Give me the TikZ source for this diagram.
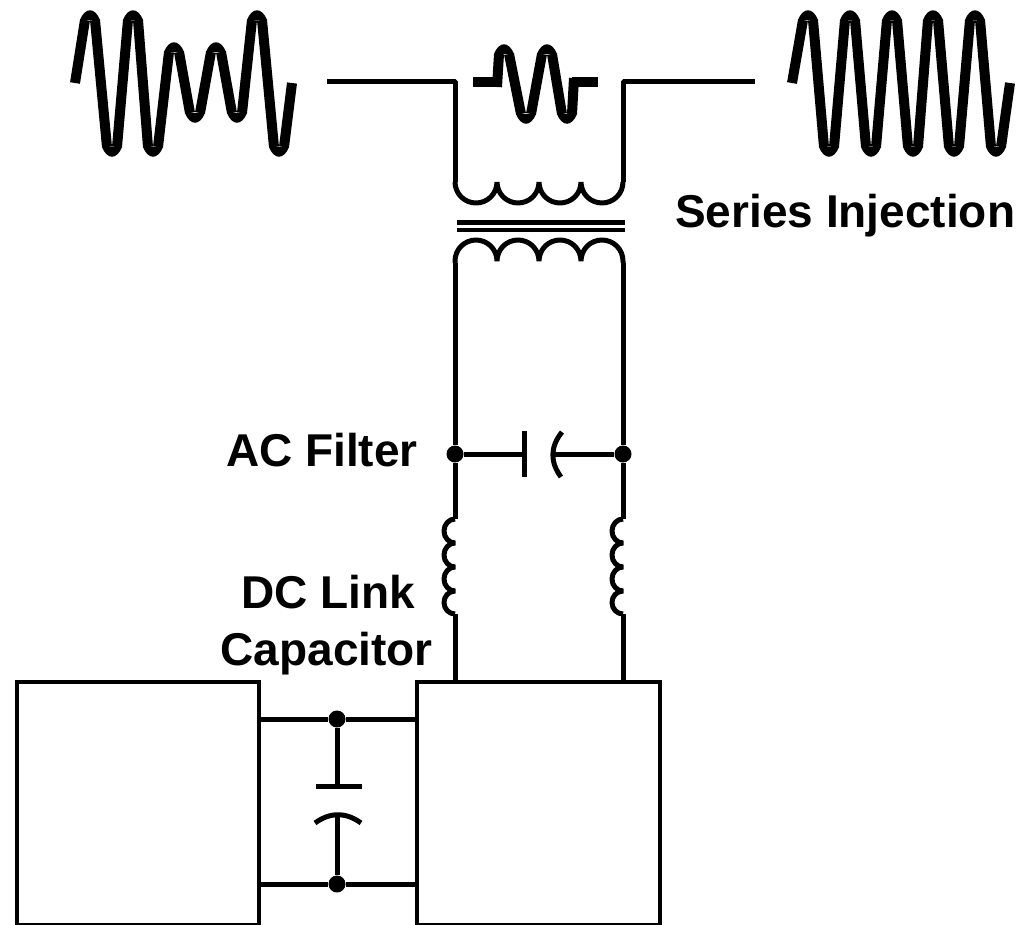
\documentclass[tikz,border=0pt]{standalone}
\usepackage{fontspec}
\setmainfont{Liberation Sans}
\usetikzlibrary{positioning}

\tikzset{
  wire/.style={line width=5pt,line join=bevel},
  plate/.style={line width=5pt},
  wave/.style={line width=10pt},
  dot/.style={circle,fill=black,inner sep=0pt,minimum size=17pt},
  box/.style={draw=black,line width=4pt,inner sep=0pt,outer sep=0pt,anchor=north west},
  lbl/.style={font=\fontsize{46}{50}\selectfont\bfseries,inner sep=0pt},
}
% tips of a waveform, then its strokes
\newcommand{\wavetrace}[2]{
  \foreach \xa/\ya/\xb/\yb in {#2}{
    \draw[wave] (\xa,\ya) -- (\xb,\yb);
  }
  \foreach \xt/\yt/\dir in {#1}{
    \fill (\xt-10,\yt) .. controls (\xt-5,\yt-13*\dir) and (\xt+5,\yt-13*\dir) .. (\xt+10,\yt) -- cycle;
  }
}

\begin{document}
\begin{tikzpicture}[x=1pt,y=-1pt]
\useasboundingbox (0,0) rectangle (1023,924);
\clip (0,0) rectangle (1023,924);

% source and load voltages
\wavetrace{90/20/1,112/147/-1,133/20/1,153/147/-1,174/52/1,195/113/-1,216/52/1,237/113/-1,257/20/1,279/147/-1}
  {75/83/85/20,95/20/107/147,117/147/128/20,138/20/148/147,158/147/169/52,179/52/190/113,200/113/211/52,221/52/232/113,242/113/252/20,262/20/274/147,284/147/292/83}
\wavetrace{808/20/1,829/147/-1,850/20/1,871/147/-1,892/20/1,913/147/-1,933/20/1,954/147/-1,975/20/1,996/147/-1}
  {792/83/803/20,813/20/824/147,834/147/845/20,855/20/866/147,876/147/887/20,897/20/908/147,918/147/928/20,938/20/949/147,959/147/970/20,980/20/991/147,1001/147/1010/83}
% injected voltage
\wavetrace{504/54/1,526/114/-1,547/54/1,567/114/-1}
  {473/82/496/82,497/87/499/54,509/54/521/114,531/114/542/54,552/54/562/114,572/114/574/78,572/82/598/82}

% transformer
\coordinate (PL) at (455,182);
\coordinate (PR) at (623,182);
\coordinate (SL) at (455,263);
\coordinate (SR) at (623,263);
\coordinate (lineL) at (327,81);
\coordinate (lineR) at (755,81);
\draw[wire] (lineL) -| (PL);
\draw[wire] (lineR) -| (PR);
\draw[wire] (PL) arc[start angle=180,end angle=0,radius=21]
  arc[start angle=180,end angle=0,radius=21]
  arc[start angle=180,end angle=0,radius=21]
  arc[start angle=180,end angle=0,radius=21];
\draw[wire] (SL) -- ++(0,-2) arc[start angle=180,end angle=360,radius=21]
  arc[start angle=180,end angle=360,radius=21]
  arc[start angle=180,end angle=360,radius=21]
  arc[start angle=180,end angle=360,radius=21] -- (SR);
\draw[wire] (457,222) -- (625,222);
\draw[line width=4pt] (457,230) -- (625,230);

% converters
\node[box,minimum width=242pt,minimum height=243pt] (convL) at (17,682) {};
\node[box,minimum width=243pt,minimum height=243pt] (convR) at (417,682) {};

% ac filter
\node[dot] (dotL) at (455,454) {};
\node[dot] (dotR) at (623,454) {};
\coordinate (indLt) at (455,519);
\coordinate (indLb) at (455,614);
\coordinate (indRt) at (623,519);
\coordinate (indRb) at (623,614);
\draw[wire] (SL) -- (dotL) -- (indLt);
\draw[wire] (SR) -- (dotR) -- (indRt);
\draw[wire] (indLb) -- (indLb |- convR.north);
\draw[wire] (indRb) -- (indRb |- convR.north);
\foreach \tip in {indLt,indRt}{
  \draw[wire] (\tip) arc[start angle=270,end angle=90,x radius=11,y radius=12]
    arc[start angle=270,end angle=90,x radius=11,y radius=12]
    arc[start angle=270,end angle=90,x radius=11,y radius=12]
    arc[start angle=270,end angle=90,x radius=11,y radius=11.5];
}
\coordinate (capA) at (524,454);
\coordinate (capB) at (553,454);
\draw[wire] (dotL) -- (capA);
\draw[wire] (dotR) -- (capB);
\draw[plate] (524,431) -- (524,477);
\draw[plate] (562,432) .. controls (550,447) and (550,462) .. (561,477);

% dc link
\node[dot] (dotT) at (337,719) {};
\node[dot] (dotB) at (337,884) {};
\draw[wire] (convL.east |- dotT) -- (dotT) -- (convR.west |- dotT);
\draw[wire] (convL.east |- dotB) -- (dotB) -- (convR.west |- dotB);
\coordinate (capC) at (337,786);
\coordinate (capD) at (337,815);
\draw[wire] (dotT) -- (capC);
\draw[wire] (dotB) -- (capD);
\draw[plate] (316,786) -- (362,786);
\draw[plate] (315,823) .. controls (330,812) and (346,812) .. (361,823);

% labels
\node[lbl,anchor=base west] (series) at (675,227) {Series Injection};
\node[lbl,anchor=base east] (acfilter) at (418,466) {AC Filter};
\node[lbl,anchor=base east] (dclink) at (415,608) {DC Link};
\node[lbl,anchor=base east] (capacitor) at (433,665) {Capacitor};
\end{tikzpicture}
\end{document}
